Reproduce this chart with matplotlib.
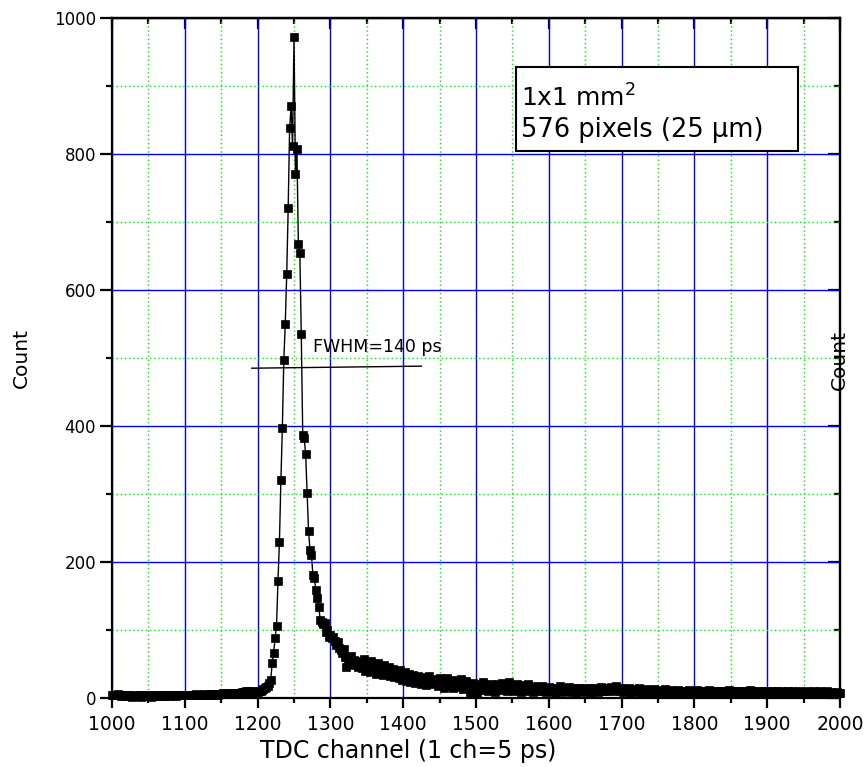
import numpy as np
import matplotlib
matplotlib.use("Agg")
import matplotlib.pyplot as plt
from matplotlib.ticker import MultipleLocator
from matplotlib.patches import Rectangle

# ---------------- data ----------------
base_channels = np.arange(1000, 1200, 2)
base_counts = [4, 5, 4, 5, 6, 4, 3, 4, 5, 3, 4, 3, 4, 3, 2, 3, 4, 3, 3, 4, 2, 3, 4, 3, 3,
               4, 3, 2, 3, 4, 3, 4, 3, 3, 4, 3, 4, 3, 4, 4, 3, 4, 5, 4, 3, 4, 4, 5, 4, 4,
               5, 4, 5, 4, 5, 5, 4, 5, 6, 5, 4, 5, 5, 6, 5, 4, 5, 6, 5, 6, 5, 6, 6, 5, 6,
               6, 7, 6, 6, 7, 6, 7, 8, 7, 7, 8, 7, 8, 8, 9, 8, 9, 10, 9, 10, 9, 10, 9, 8, 9]

peak_channels = np.arange(1200, 1341, 2)
peak_counts = [9, 10, 11, 12, 13, 14, 16, 18, 22, 26,
               51, 66, 88, 106, 172, 230, 320, 397, 497, 550,
               623, 720, 838, 870, 812, 972, 770, 807, 667, 655,
               535, 387, 382, 359, 301, 245, 218, 210, 181, 176,
               159, 147, 134, 115, 112, 109, 110, 97, 100, 90,
               93, 88, 90, 84, 78, 82, 74, 70, 66, 72,
               60, 46, 58, 52, 62, 50, 56, 48, 55, 45, 52]

tail_channels = np.arange(1342, 2001, 2)
tail_counts = [50, 44, 58, 40, 52, 47, 38, 55, 42, 49, 36, 45, 52, 39, 44, 34, 48, 41, 37, 46, 33, 40, 43, 31, 38,
               35, 29, 41, 27, 33, 38, 25, 31, 36, 24, 30, 34, 22, 28, 33, 26, 21, 31, 25, 29, 19, 27, 32, 23, 26,
               20, 28, 24, 17, 30, 22, 26, 15, 23, 29, 18, 25, 21, 14, 27, 20, 24, 16, 22, 28, 13, 19, 25, 17, 21,
               8, 15, 22, 11, 18, 6, 16, 20, 12, 23, 14, 19, 10, 17, 21, 13, 18, 9, 16, 20, 12, 17, 22, 14, 18,
               11, 16, 24, 13, 19, 10, 15, 21, 12, 17, 9, 14, 19, 11, 16, 20, 12, 15, 9, 18, 13, 16, 10, 14, 17,
               11, 15, 9, 13, 16, 10, 14, 12, 8, 15, 11, 13, 17, 9, 12, 14, 10, 13, 16, 9, 12, 15, 11, 8, 13,
               14, 10, 12, 15, 9, 13, 11, 14, 8, 12, 15, 10, 13, 9, 12, 16, 11, 14, 10, 13, 15, 12, 16, 11, 14,
               17, 12, 15, 11, 14, 9, 12, 13, 10, 14, 8, 11, 13, 9, 12, 10, 14, 8, 11, 12, 9, 13, 10, 8, 12,
               10, 13, 9, 11, 7, 12, 10, 8, 11, 13, 9, 10, 7, 12, 9, 11, 8, 10, 12, 7, 9, 11, 8, 10, 9,
               12, 8, 10, 7, 11, 9, 12, 8, 10, 6, 9, 11, 8, 10, 12, 7, 9, 10, 8, 11, 6, 9, 10, 8, 11,
               9, 7, 10, 12, 8, 9, 11, 7, 10, 8, 6, 9, 11, 8, 10, 7, 9, 12, 8, 10, 7, 9, 8, 11, 7,
               9, 10, 6, 8, 11, 7, 9, 8, 10, 6, 9, 11, 7, 8, 10, 9, 6, 8, 10, 7, 9, 11, 8, 6, 9,
               8, 10, 7, 9, 6, 8, 11, 7, 9, 8, 6, 10, 7, 9, 8, 10, 6, 8, 9, 7, 10, 8, 6, 9, 7,
               8, 6, 9, 7, 8]

channels = np.concatenate([base_channels, peak_channels, tail_channels])
counts = np.array(base_counts + peak_counts + tail_counts)

fwhm_x = [1192, 1425]
fwhm_y = [485, 488]
fwhm_label = "FWHM=140 ps"
legend_lines = ["1x1 mm$\\mathregular{^2}$", "576 pixels (25 \u03bcm)"]
x_label = "TDC channel (1 ch=5 ps)"
y_label = "Count"

# ---------------- figure ----------------
plt.rcParams['font.family'] = ['DejaVu Sans']
W, H = 867, 767
fig = plt.figure(figsize=(W / 100, H / 100), dpi=100)
ax = fig.add_axes([112 / W, 1 - 698 / H, 728 / W, 680 / H])

ax.set_xlim(1000, 2000)
ax.set_ylim(0, 1000)
ax.xaxis.set_major_locator(MultipleLocator(100))
ax.xaxis.set_minor_locator(MultipleLocator(50))
ax.yaxis.set_major_locator(MultipleLocator(200))
ax.yaxis.set_minor_locator(MultipleLocator(100))

ax.set_axisbelow(True)
ax.grid(which='major', color='#0000ff', lw=1.0, ls='-')
ax.grid(which='minor', color='#00ee00', lw=1.0, ls=(0, (1, 2)))

for s in ax.spines.values():
    s.set_linewidth(1.6)
    s.set_color('black')

ax.tick_params(axis='x', which='major', direction='out', length=7, width=1.6,
               labelsize=13.5, pad=5, top=False)
ax.tick_params(axis='x', which='minor', direction='out', length=3.6, width=1.6, top=False)
ax.tick_params(axis='y', which='major', direction='out', length=8.5, width=1.6,
               labelsize=12, pad=3, right=False)
ax.tick_params(axis='y', which='minor', direction='out', length=4, width=1.6, right=False)

# top and right inward ticks
secx = ax.secondary_xaxis('top')
secx.xaxis.set_major_locator(MultipleLocator(100))
secx.xaxis.set_minor_locator(MultipleLocator(50))
secx.tick_params(which='major', direction='in', length=8, width=1.6, labeltop=False)
secx.tick_params(which='minor', direction='in', length=4, width=1.6)
secx.spines['top'].set_linewidth(1.6)
secy = ax.secondary_yaxis('right')
secy.yaxis.set_major_locator(MultipleLocator(200))
secy.yaxis.set_minor_locator(MultipleLocator(100))
secy.tick_params(which='major', direction='in', length=9, width=1.6, labelright=False)
secy.tick_params(which='minor', direction='in', length=4.5, width=1.6)
secy.spines['right'].set_linewidth(1.6)

ax.plot(channels, counts, '-', color='black', lw=1.0, marker='s', ms=6.3,
        mfc='black', mec='black', mew=0.5, zorder=3, clip_on=False)

ax.plot(fwhm_x, fwhm_y, color='black', lw=1.0, zorder=4)
ax.text(1276, 516, fwhm_label, fontsize=12.5, ha='left', va='center', zorder=5)

# axis labels
fig.text(408 / W, 1 - 758 / H, x_label, fontsize=17, ha='center', va='baseline')
fig.text(21 / W, 1 - 358 / H, y_label, fontsize=14.5, ha='center', va='center', rotation=90)
fig.text(839 / W, 1 - 360 / H, y_label, fontsize=14.5, ha='center', va='center', rotation=90)

# legend box
fig.patches.append(Rectangle((516 / W, 1 - 151 / H), (798 - 516) / W, (151 - 67) / H,
                             transform=fig.transFigure, facecolor='white',
                             edgecolor='black', lw=1.5, zorder=10))
fig.text(521 / W, 1 - 98 / H, legend_lines[0], fontsize=18, ha='left', va='center', zorder=11)
fig.text(521 / W, 1 - 130 / H, legend_lines[1], fontsize=18.5, ha='left', va='center', zorder=11)

fig.savefig('out.png', dpi=100)
